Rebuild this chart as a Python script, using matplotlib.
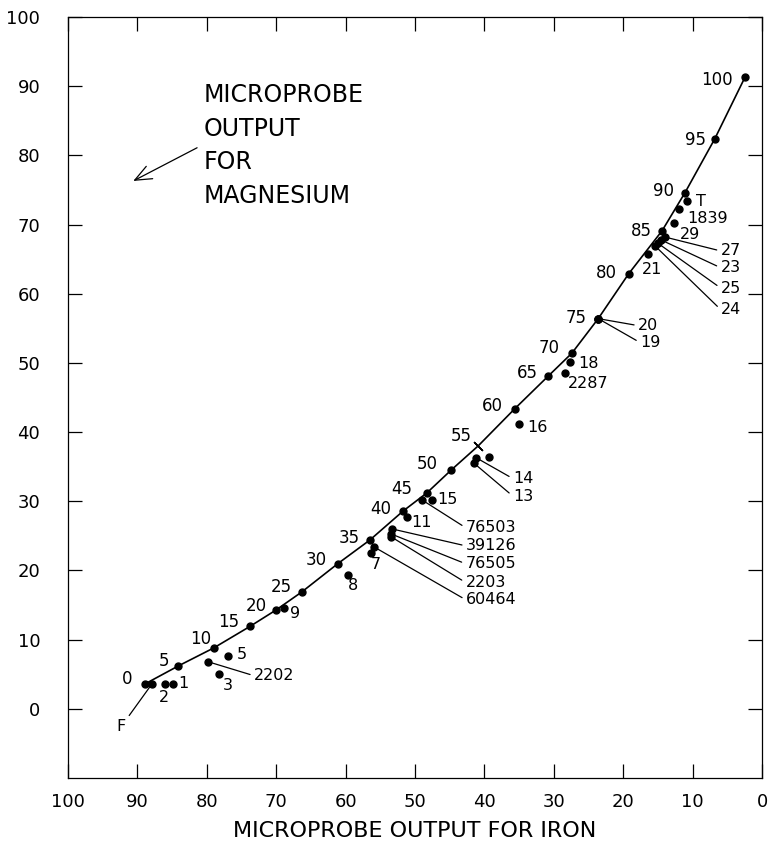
import numpy as np
import matplotlib
matplotlib.use("Agg")
import matplotlib.pyplot as plt

# curve: calibration points, labelled 0..100
curve_labels = ['0', '5', '10', '15', '20', '25', '30', '35', '40', '45', '50',
                '55', '60', '65', '70', '75', '80', '85', '90', '95', '100']
curve_x = [88.9, 84.1, 79.0, 73.8, 70.0, 66.3, 61.1, 56.5, 51.7, 48.3, 44.8,
           40.9, 35.6, 30.8, 27.4, 23.6, 19.2, 14.4, 11.1, 6.8, 2.45]
curve_y = [3.6, 6.2, 8.8, 11.9, 14.3, 16.9, 21.0, 24.4, 28.6, 31.2, 34.5,
           38.0, 43.4, 48.1, 51.4, 56.4, 62.9, 69.1, 74.6, 82.4, 91.3]

# samples measured off the curve
sample_labels = ['F', '2', '1', '2202', '3', '5', '9', '8', '7', '60464', '2203',
                 '76505', '39126', '11', '76503', '15', '13', '14', '', '16',
                 '2287', '18', '20', '19', '21', '24', '25', '23', '27', '29',
                 '1839', 'T']
sample_x = [87.9, 86.0, 84.9, 79.8, 78.2, 76.9, 68.9, 59.7, 56.3, 55.9, 53.5,
            53.5, 53.3, 51.2, 49.0, 47.6, 41.5, 41.2, 39.3, 35.0,
            28.4, 27.7, 23.6, 23.6, 16.4, 15.4, 15.0, 14.6, 14.0, 12.7,
            12.0, 10.8]
sample_y = [3.6, 3.6, 3.6, 6.8, 5.1, 7.7, 14.6, 19.4, 22.5, 23.4, 24.9,
            25.3, 26.0, 27.7, 30.2, 30.2, 35.5, 36.3, 36.4, 41.2,
            48.6, 50.1, 56.4, 56.4, 65.8, 66.9, 67.3, 67.8, 68.2, 70.2,
            72.3, 73.4]

# label placement (pixel offsets from the dot), alignment, leader line or not
curve_offsets = [(-18, 5), (-14, 5), (-13, 9), (-21, 4), (-20, 4), (-21, 5),
                 (-22, 4), (-21, 2), (-22, 2), (-25, 4), (-24, 6), (-17, 10),
                 (-23, 3), (-21, 3), (-23, 5), (-22, 1), (-22, 1), (-21, 0),
                 (-21, 2), (-19, -1), (-28, -3)]
sample_offsets = [(-31, -43), (-1, -14), (5, 0), (46, -14), (9, -12), (8, 1),
                  (6, -6), (5, -11), (5, -11), (92, -53), (75, -46), (75, -30),
                  (74, -17), (5, -5), (44, -28), (6, 0), (39, -33), (37, -21),
                  (0, 0), (8, -4), (3, -11), (8, -1), (40, -7), (42, -24),
                  (4, -16), (66, -64), (63, -45), (60, -28), (56, -14), (6, -11),
                  (9, -10), (9, 0)]
sample_ha = ['center', 'center', 'left', 'left', 'center', 'left', 'left',
             'center', 'center', 'left', 'left', 'left', 'left', 'left', 'left',
             'left', 'left', 'left', 'left', 'left', 'left', 'left', 'left',
             'left', 'center', 'left', 'left', 'left', 'left', 'left', 'left',
             'left']
leaders = ['F', '2202', '60464', '2203', '76505', '39126', '76503', '13', '14',
           '20', '19', '24', '25', '23', '27']

x_ticks = list(range(0, 101, 10))
y_ticks = list(range(0, 101, 10))

plt.rcParams['font.family'] = 'DejaVu Sans'

fig = plt.figure(figsize=(7.69, 8.48), dpi=100)
ax = fig.add_axes([68 / 769, 70 / 848, 694 / 769, 761 / 848])

ax.set_xlim(100, 0)
ax.set_ylim(-10, 100)
ax.set_xticks(x_ticks)
ax.set_yticks(y_ticks)
ax.tick_params(direction='in', length=10, width=0.9, top=True, right=True,
               labelsize=13, colors='black')
ax.tick_params(axis='y', pad=20)
ax.tick_params(axis='x', pad=11)
for s in ax.spines.values():
    s.set_linewidth(0.9)

# curve
ax.plot(curve_x, curve_y, color='black', lw=1.2, zorder=2)
for i, lab in enumerate(curve_labels):
    if lab == '55':
        ax.plot(curve_x[i], curve_y[i], marker=(2, 2, 45), ms=9, mew=1,
                color='black', zorder=3)
    else:
        ax.plot(curve_x[i], curve_y[i], 'o', color='black', ms=5, zorder=3)
    ax.annotate(lab, (curve_x[i], curve_y[i]), xytext=curve_offsets[i],
                textcoords='offset pixels', ha='center', va='center',
                fontsize=12)

# samples
ax.plot(sample_x, sample_y, 'o', color='black', ms=5, ls='none', zorder=3)
for i, lab in enumerate(sample_labels):
    if lab == '':
        continue
    kw = {}
    if lab in leaders:
        rel = (0, 0.5) if sample_ha[i] == 'left' else (0.5, 0.5)
        kw['arrowprops'] = dict(arrowstyle='-', color='black', lw=0.9,
                                shrinkA=1, shrinkB=0, relpos=rel)
    ax.annotate(lab, (sample_x[i], sample_y[i]), xytext=sample_offsets[i],
                textcoords='offset pixels', ha=sample_ha[i], va='center',
                fontsize=11.5, **kw)

# magnesium note with arrow
ax.text(80.5, 81.4, 'MICROPROBE\nOUTPUT\nFOR\nMAGNESIUM', ha='left',
        va='center', fontsize=17, linespacing=1.5)
ax.annotate('', xy=(90.6, 76.3), xytext=(81.4, 81.1),
            arrowprops=dict(arrowstyle='->,head_length=1.2,head_width=0.5',
                            color='black', lw=0.9, shrinkA=0, shrinkB=0))

ax.set_xlabel('MICROPROBE OUTPUT FOR IRON', fontsize=16, labelpad=7)

fig.savefig('out.png', dpi=100)
